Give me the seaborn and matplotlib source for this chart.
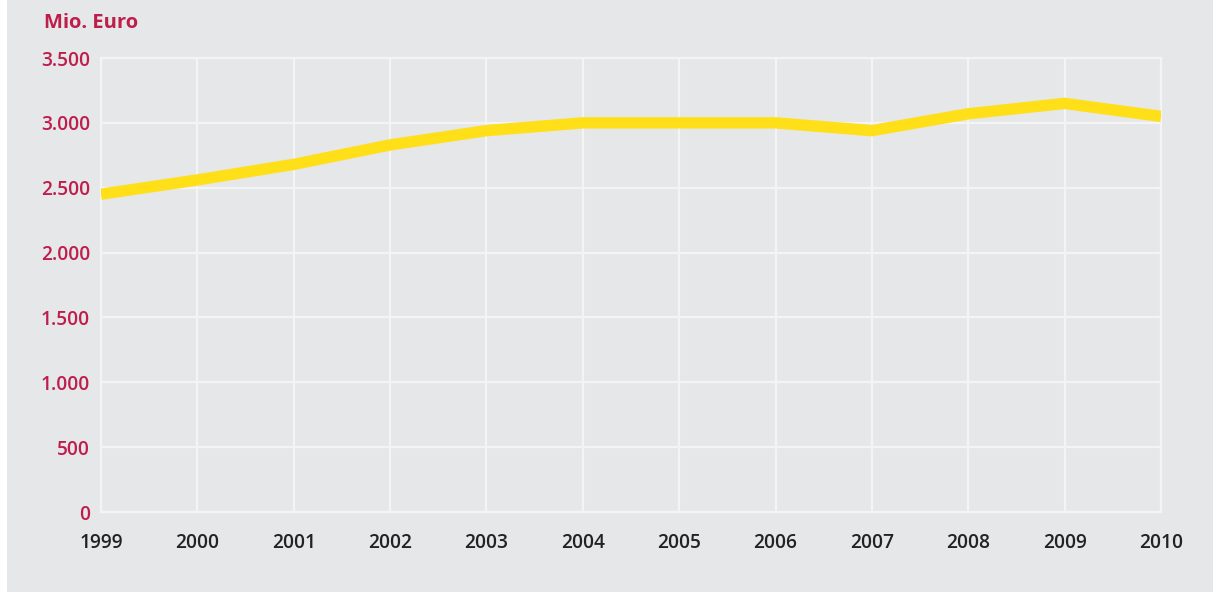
import matplotlib
matplotlib.use("Agg")
import matplotlib.pyplot as plt
import seaborn as sns
import pandas as pd
from matplotlib.patches import Rectangle
from matplotlib.ticker import FuncFormatter

# Annual values in million euro
years = [1999, 2000, 2001, 2002, 2003, 2004, 2005, 2006, 2007, 2008, 2009, 2010]
values = [2450, 2560, 2680, 2830, 2940, 3000, 3000, 3000, 2940, 3070, 3150, 3050]
y_ticks = [0, 500, 1000, 1500, 2000, 2500, 3000, 3500]
unit_label = "Mio. Euro"

BG = "#e6e7e9"
GRID = "#f4f4f5"
LINE = "#ffdf17"
RED = "#be1e4b"
DARK = "#222222"

sns.set_theme(style="white")
plt.rcParams["font.family"] = ["Open Sans", "DejaVu Sans"]

df = pd.DataFrame({"year": years, "value": values})

fig = plt.figure(figsize=(12.13, 5.92), dpi=100, facecolor="white")
fig.patches.append(Rectangle((7 / 1213, 0), 1 - 7 / 1213, 1, transform=fig.transFigure,
                             facecolor=BG, edgecolor="none", zorder=-10))

ax = fig.add_axes([101 / 1213, 1 - 512 / 592, 1060 / 1213, 454 / 592])
ax.set_facecolor(BG)

sns.lineplot(data=df, x="year", y="value", ax=ax, color=LINE, linewidth=8.2,
             solid_capstyle="butt", solid_joinstyle="miter", zorder=3)

ax.set_xlim(years[0], years[-1])
ax.set_ylim(y_ticks[0], y_ticks[-1])
ax.set_xticks(years)
ax.set_yticks(y_ticks)
ax.yaxis.set_major_formatter(FuncFormatter(lambda v, p: f"{int(v):,}".replace(",", ".")))

ax.grid(True, color=GRID, linewidth=1.6, zorder=0)
for s in ax.spines.values():
    s.set_color(GRID)
    s.set_linewidth(1.6)
    s.set_zorder(1)

ax.tick_params(axis="both", length=0)
ax.tick_params(axis="y", pad=8, labelcolor=RED, labelsize=13.8)
ax.tick_params(axis="x", pad=15, labelcolor=DARK, labelsize=13.8)
for lab in ax.get_xticklabels() + ax.get_yticklabels():
    lab.set_fontweight("semibold")

ax.set_xlabel("")
ax.set_ylabel("")

fig.text(44 / 1213, 1 - 23 / 592, unit_label, color=RED, fontsize=14.5,
         fontweight="bold", ha="left", va="center")

fig.savefig("out.png", dpi=100, facecolor=fig.get_facecolor())
